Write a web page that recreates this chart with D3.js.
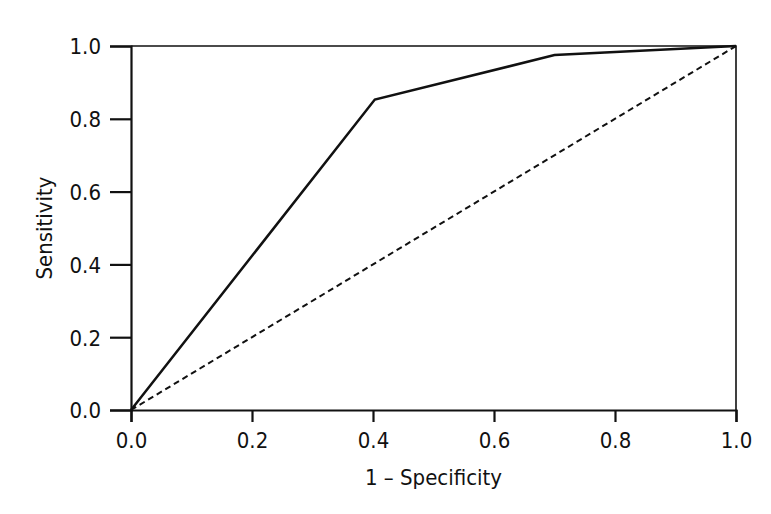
<!DOCTYPE html>
<html>
<head>
<meta charset="utf-8">
<script src="https://cdn.jsdelivr.net/npm/d3@7"></script>
<style>
  body { margin: 0; background: #fff; }
  text { font-family: "Liberation Sans Narrow", "DejaVu Sans Condensed", sans-serif; fill: #111; }
</style>
</head>
<body>
<svg id="chart"></svg>
<script>
// ROC curve points (1 - specificity, sensitivity)
let fpr = [0, 0.403, 0.70, 1];
let tpr = [0, 0.853, 0.975, 1];
let refLine = [0, 1];
let ticks = [0, 0.2, 0.4, 0.6, 0.8, 1.0];

let width = 771;
let height = 514;
let margin = { top: 46, right: 35, bottom: 104, left: 131 };

let svg = d3.select("#chart").attr("width", width).attr("height", height);

let x = d3.scaleLinear().domain([0, 1]).range([margin.left, width - margin.right]);
let y = d3.scaleLinear().domain([0, 1]).range([height - margin.bottom, margin.top]);

// frame top & right
svg.append("path")
  .attr("d", `M${x(0)},${y(1)} H${x(1)} V${y(0)}`)
  .attr("fill", "none")
  .attr("stroke", "#111")
  .attr("stroke-width", 1.6);

// x axis
let xAxis = svg.append("g")
  .attr("transform", `translate(0,${y(0)})`)
  .call(d3.axisBottom(x).tickValues(ticks).tickFormat(d3.format(".1f")).tickSize(12).tickPadding(10));

// y axis
let yAxis = svg.append("g")
  .attr("transform", `translate(${x(0)},0)`)
  .call(d3.axisLeft(y).tickValues(ticks).tickFormat(d3.format(".1f")).tickSize(21).tickPadding(9));

[xAxis, yAxis].forEach(a => {
  a.select(".domain").attr("stroke", "#111").attr("stroke-width", 2.2);
  a.selectAll(".tick line").attr("stroke", "#111").attr("stroke-width", 2.2);
  a.selectAll(".tick text").style("font-size", "22px").attr("fill", "#111");
});
yAxis.selectAll(".tick text").attr("dy", "0.36em");

// reference diagonal
svg.append("line")
  .attr("x1", x(refLine[0])).attr("y1", y(refLine[0]))
  .attr("x2", x(refLine[1])).attr("y2", y(refLine[1]))
  .attr("stroke", "#111")
  .attr("stroke-width", 2)
  .attr("stroke-dasharray", "6,4");

// ROC curve
let line = d3.line().x(d => x(d[0])).y(d => y(d[1]));
svg.append("path")
  .datum(fpr.map((v, i) => [v, tpr[i]]))
  .attr("d", line)
  .attr("fill", "none")
  .attr("stroke", "#111")
  .attr("stroke-width", 2.5);

// axis titles
svg.append("text")
  .attr("x", (x(0) + x(1)) / 2)
  .attr("y", 485)
  .attr("text-anchor", "middle")
  .style("font-size", "22px")
  .text("1 – Specificity");

svg.append("text")
  .attr("transform", `translate(52,${(y(0) + y(1)) / 2}) rotate(-90)`)
  .attr("text-anchor", "middle")
  .style("font-size", "22px")
  .text("Sensitivity");
</script>
</body>
</html>
